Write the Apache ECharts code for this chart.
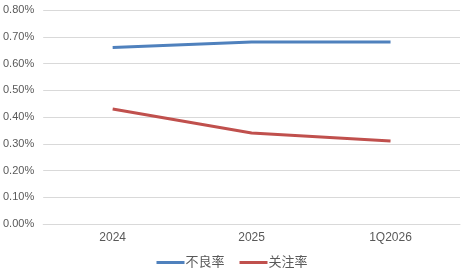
<!DOCTYPE html>
<html>
<head>
<meta charset="utf-8">
<script src="https://cdn.jsdelivr.net/npm/echarts@6/dist/echarts.min.js"></script>
<style>
  html, body { margin: 0; padding: 0; background: #fff; }
  #chart { width: 464px; height: 276px; }
</style>
</head>
<body>
<div id="chart"></div>
<script>
let categories = ['2024', '2025', '1Q2026'];
let nplRate = [0.66, 0.68, 0.68];      // 不良率
let watchRate = [0.43, 0.34, 0.31];    // 关注率
let seriesNames = ['不良率', '关注率'];

let chart = echarts.init(document.getElementById('chart'));

let option = {
    animation: false,
    textStyle: { fontFamily: 'Liberation Sans, Noto Sans CJK SC, sans-serif' },
    legend: {
        data: seriesNames,
        bottom: 2,
        left: 'center',
        itemWidth: 28,
        itemHeight: 3,
        itemGap: 15,
        icon: 'rect',
        textStyle: { color: '#595959', fontSize: 13, padding: [0, 0, 0, -4] }
    },
    grid: { left: 43, right: 4, top: 10, bottom: 52 },
    xAxis: {
        type: 'category',
        data: categories,
        axisLine: { show: true, lineStyle: { color: '#d9d9d9' } },
        axisTick: { show: false },
        axisLabel: { color: '#595959', fontSize: 12, margin: 8 }
    },
    yAxis: {
        type: 'value',
        min: 0,
        max: 0.8,
        interval: 0.1,
        axisLine: { show: false },
        axisTick: { show: false },
        splitLine: { lineStyle: { color: '#d9d9d9' } },
        axisLabel: {
            color: '#595959',
            fontSize: 11,
            margin: 9,
            formatter: v => v.toFixed(2) + '%'
        }
    },
    series: [
        {
            name: seriesNames[0],
            type: 'line',
            data: nplRate,
            symbol: 'none',
            lineStyle: { width: 3, color: '#4F81BD' },
            itemStyle: { color: '#4F81BD' }
        },
        {
            name: seriesNames[1],
            type: 'line',
            data: watchRate,
            symbol: 'none',
            lineStyle: { width: 3, color: '#C0504D' },
            itemStyle: { color: '#C0504D' }
        }
    ]
};

chart.setOption(option);
</script>
</body>
</html>
